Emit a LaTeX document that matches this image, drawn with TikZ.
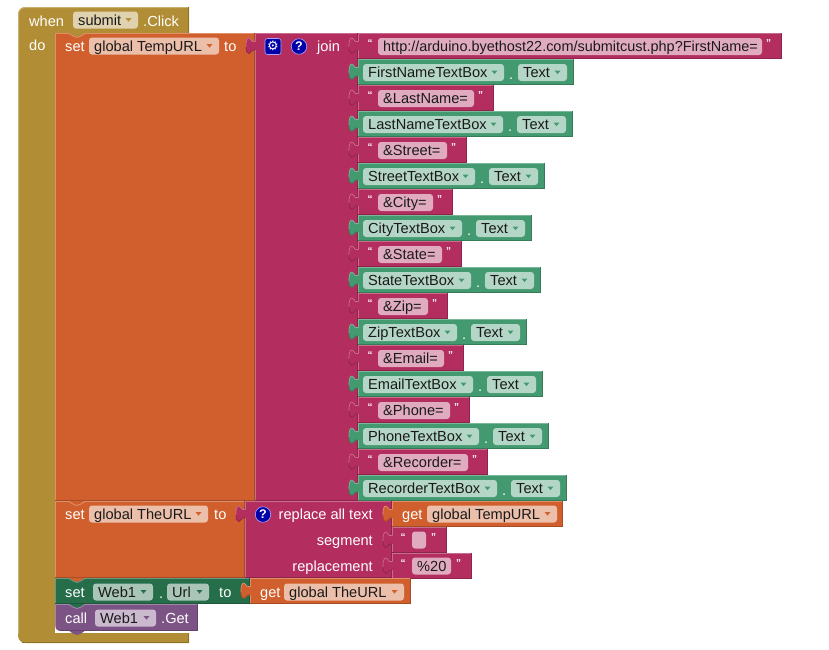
\documentclass[tikz,border=0pt]{standalone}
\usepackage{fontspec}
\setmainfont{Liberation Sans}
\newfontfamily\symfont{DejaVu Sans}
\definecolor{mustard}{HTML}{B18E35}
\definecolor{mustardL}{HTML}{C8B06F}
\definecolor{mustardD}{HTML}{8E722A}
\definecolor{mustardP}{HTML}{E0D2AE}
\definecolor{orng}{HTML}{D05F2D}
\definecolor{orngL}{HTML}{E08F6B}
\definecolor{orngD}{HTML}{A64C24}
\definecolor{orngP}{HTML}{ECBFAB}
\definecolor{mag}{HTML}{B32D5E}
\definecolor{magL}{HTML}{CA6C8E}
\definecolor{magD}{HTML}{8F244B}
\definecolor{magP}{HTML}{E1ABBF}
\definecolor{grn}{HTML}{439970}
\definecolor{grnL}{HTML}{7BB79A}
\definecolor{grnD}{HTML}{367A5A}
\definecolor{grnP}{HTML}{B4D6C6}
\definecolor{dgrn}{HTML}{266D4A}
\definecolor{dgrnL}{HTML}{689980}
\definecolor{dgrnD}{HTML}{1E573B}
\definecolor{dgrnP}{HTML}{A8C5B7}
\definecolor{purp}{HTML}{7C5385}
\definecolor{purpL}{HTML}{A387A9}
\definecolor{purpD}{HTML}{63426A}
\definecolor{purpP}{HTML}{CBBACE}
\definecolor{ink}{HTML}{1A1A1A}
\definecolor{hblue}{HTML}{0000A8}
\tikzset{
  lbl/.style={text=white,font=\fontsize{14.6}{16}\selectfont,inner sep=0pt,anchor=base west},
  lblr/.style={lbl,anchor=base east},
  val/.style={text=ink,font=\fontsize{14.6}{16}\selectfont,inner sep=0pt,anchor=base west},
  qt/.style={text=white,font=\fontsize{10}{12}\selectfont\bfseries,inner sep=0pt,anchor=center},
  help/.style={circle,fill=hblue,draw=white!65!blue,line width=.6pt,minimum size=15.5pt,inner sep=0pt,text=white,font=\fontsize{12.5}{14}\selectfont\bfseries},
}
% block: x1 y1 x2 y2 colour
\newcommand{\blk}[5]{%
  \fill[#5] (#1,#2) rectangle (#3,#4);
  \draw[#5L,line width=1.2pt] (#1+.6,#4) -- (#1+.6,#2+.6) -- (#3,#2+.6);
  \draw[#5D,line width=1.2pt] (#1,#4-.6) -- (#3-.6,#4-.6) -- (#3-.6,#2);
}
% value tab on left edge: x ytop colour
\newcommand{\tab}[3]{%
  \fill[#3] (#1+1.2,#2+8.5) -- (#1-2,#2+8.5) .. controls (#1-4,#2+9) and (#1-4,#2+5) .. (#1-6,#2+5) .. controls (#1-8,#2+5) and (#1-9,#2+8) .. (#1-9,#2+12) -- (#1-9,#2+14) .. controls (#1-9,#2+18) and (#1-8,#2+20.5) .. (#1-6,#2+20.5) .. controls (#1-4,#2+20.5) and (#1-4,#2+17) .. (#1-2,#2+17) -- (#1+1.2,#2+17) -- cycle;
  \draw[#3L,line width=.7pt] (#1,#2+8.5) -- (#1-2,#2+8.5) .. controls (#1-4,#2+9) and (#1-4,#2+5) .. (#1-6,#2+5) .. controls (#1-8,#2+5) and (#1-9,#2+8) .. (#1-9,#2+12) -- (#1-9,#2+14);
  \draw[#3D,line width=.7pt] (#1-9,#2+14) .. controls (#1-9,#2+18) and (#1-8,#2+20.5) .. (#1-6,#2+20.5) .. controls (#1-4,#2+20.5) and (#1-4,#2+17) .. (#1-2,#2+17) -- (#1,#2+17);
}
% statement notch: x(left of block) y(bottom of upper block) colour
\newcommand{\bump}[3]{%
  \fill[#3] (#1+14,#2-.2) -- (#1+18,#2+2.5) -- (#1+22,#2+4) -- (#1+26,#2+2.5) -- (#1+30,#2-.2) -- cycle;
}
% notch with light edge
\newcommand{\bumpe}[4]{%
  \bump{#1}{#2}{#3}
  \draw[#4,line width=.8pt] (#1+14,#2+.6) -- (#1+18,#2+3) -- (#1+22,#2+4.5) -- (#1+26,#2+3) -- (#1+30,#2+.6);
}
% text field: x1 x2 ycentre colour
\newcommand{\pill}[4]{%
  \fill[#4P,rounded corners=3pt] (#1,#3-8.5) rectangle (#2,#3+8.5);
}
\newcommand{\ddarr}[3]{% right end of pill, ycentre, colour
  \fill[#3] (#1-12.5,#2-2) -- (#1-6.5,#2-2) -- (#1-9.5,#2+1.6) -- cycle;
}
% dropdown: x1 x2 yc text colour
\newcommand{\dd}[5]{%
  \pill{#1}{#2}{#3}{#5}
  \ddarr{#2}{#3}{#5}
  \node[val] at (#1+5,#3+5) {#4};
}
% text literal row: ytop xright text
\newcommand{\lit}[3]{%
  \blk{358}{#1}{#2}{#1+26}{mag}
  \tab{358}{#1}{mag}
  \node[qt] at (370,#1+10) {“};
  \pill{378}{#2-20}{#1+13.5}{mag}
  \node[val] at (383,#1+18.5) {#3};
  \node[qt] at (#2-13.5,#1+10) {”};
}
% green text box row: ytop xright name
\newcommand{\tbx}[3]{%
  \blk{358}{#1}{#2}{#1+26}{grn}
  \tab{358}{#1}{grn}
  \dd{363}{#2-70}{#1+13.5}{#3}{grn}
  \node[lbl] at (#2-65,#1+20) {.};
  \dd{#2-56}{#2-7}{#1+13.5}{Text}{grn}
}
\begin{document}
\begin{tikzpicture}[x=1pt,y=-1pt]
\useasboundingbox (0,0) rectangle (829,649);
% event block
\fill[mustard] (189,643) -- (26,643) .. controls (21,643) and (18,640) .. (18,635) -- (18,15) .. controls (18,10) and (21,7) .. (26,7) -- (189,7) -- (189,33) -- (55,33) -- (55,633) -- (189,633) -- cycle;
\draw[mustardL,line width=1pt] (18.5,634) -- (18.5,15) .. controls (18.5,10) and (21,7.5) .. (26,7.5) -- (188,7.5);
\draw[mustardD,line width=1pt] (22,642.5) -- (188.5,642.5) -- (188.5,633);
\draw[mustardD,line width=1pt] (188.5,7) -- (188.5,33);
\node[lbl] (when) at (29,26) {when};
\dd{73}{138}{20}{submit}{mustard}
\node[lbl] (click) at (143,26) {.Click};
\node[lbl] (do) at (29,50) {do};
% set TempURL
\blk{55}{33}{255}{501}{orng}
\bumpe{55}{33}{mustard}{orngL}
\node[lbl] at (65,51) {set};
\dd{89}{219}{46}{global TempURL}{orng}
\node[lbl] at (224,51) {to};
% join
\blk{255}{33}{358}{501}{mag}
\tab{255}{33}{mag}
\fill[hblue,rounded corners=2.5pt,draw=white!65!blue,line width=.6pt] (265,38.5) rectangle (281,54.5);
\node[text=white,font=\symfont\fontsize{13}{14}\selectfont,inner sep=0pt] (gear) at (273,46) {⚙};
\node[help] (q1) at (299,46.5) {?};
\node[lbl] at (317,51) {join};
\lit{33}{782}{\fontsize{14.45}{16}\selectfont http://arduino.byethost22.com/submitcust.php?FirstName=}
\tbx{59}{574}{FirstNameTextBox}
\lit{85}{494}{\&LastName=}
\tbx{111}{573}{LastNameTextBox}
\lit{137}{467}{\&Street=}
\tbx{163}{545}{StreetTextBox}
\lit{189}{453}{\&City=}
\tbx{215}{532}{CityTextBox}
\lit{241}{462}{\&State=}
\tbx{267}{541}{StateTextBox}
\lit{293}{448}{\&Zip=}
\tbx{319}{527}{ZipTextBox}
\lit{345}{464}{\&Email=}
\tbx{371}{543}{EmailTextBox}
\lit{397}{470}{\&Phone=}
\tbx{423}{549}{PhoneTextBox}
\lit{449}{488}{\&Recorder=}
\tbx{475}{567}{RecorderTextBox}
% set TheURL
\blk{55}{501}{245}{578}{orng}
\bumpe{55}{501}{orng}{orngL}
\node[lbl] at (65,519) {set};
\dd{89}{208}{514}{global TheURL}{orng}
\node[lbl] at (214,519) {to};
\blk{245}{501}{392}{578}{mag}
\tab{245}{501}{mag}
\node[help] (q2) at (263,514.5) {?};
\node[lblr] at (373,519) {replace all text};
\node[lblr] at (373,545) {segment};
\node[lblr] at (373,571) {replacement};
\blk{392}{501}{563}{527}{orng}
\tab{392}{501}{orng}
\node[lbl] at (402,519) {get};
\dd{427}{557}{514}{global TempURL}{orng}
\blk{392}{527}{447}{553}{mag}
\tab{392}{527}{mag}
\node[qt] at (403,537) {“};
\pill{412}{426}{540}{mag}
\node[qt] at (433.5,537) {”};
\blk{392}{553}{472}{579}{mag}
\tab{392}{553}{mag}
\node[qt] at (403,563) {“};
\pill{412}{451}{566}{mag}
\node[val] at (417,571) {\%20};
\node[qt] at (458.5,563) {”};
% set Web1.Url
\blk{55}{578}{250}{604}{dgrn}
\bumpe{55}{578}{orng}{dgrnL}
\node[lbl] at (65,597) {set};
\dd{93}{153}{592}{Web1}{dgrn}
\node[lbl] at (159,598) {.};
\dd{167}{209}{592}{Url}{dgrn}
\node[lbl] at (219,597) {to};
\blk{250}{578}{411}{604}{orng}
\tab{250}{578}{orng}
\node[lbl] at (260,597) {get};
\dd{284}{404}{592}{global TheURL}{orng}
% call
\blk{55}{604}{198}{631}{purp}
\bumpe{55}{604}{dgrn}{purpL}
\bump{55}{631}{purp}
\fill[white] (55,626) .. controls (55.5,630) and (58,631.2) .. (63,631.2) -- (55,633) -- cycle;
\node[lbl] at (65,623) {call};
\dd{95}{156}{618}{Web1}{purp}
\node[lbl] at (161,623) {.Get};
\end{tikzpicture}
\end{document}
